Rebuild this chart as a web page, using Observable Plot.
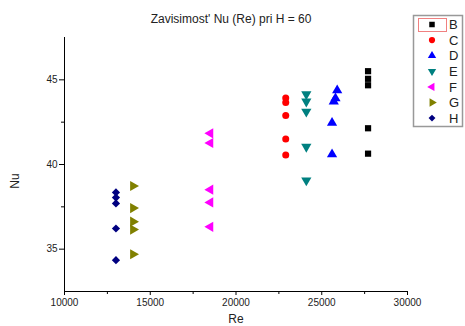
<!DOCTYPE html>
<html>
<head>
<meta charset="utf-8">
<script src="https://cdn.jsdelivr.net/npm/d3@7"></script>
<script src="https://cdn.jsdelivr.net/npm/@observablehq/plot@0.6"></script>
<style>
  html, body { margin: 0; padding: 0; background: #fff; }
  #wrap { position: relative; width: 465px; height: 326px; overflow: hidden; font-family: "Liberation Sans", Arial, sans-serif; }
  .lbl { position: absolute; color: #222; white-space: nowrap; line-height: 1; }
</style>
</head>
<body>
<div id="wrap"></div>
<script>
// ---- data ----
const seriesNames = ["B", "C", "D", "E", "F", "G", "H"];
const reB = [27700, 27700, 27700, 27700, 27700];
const nuB = [45.51, 45.06, 44.68, 42.14, 40.64];
const reC = [22900, 22900, 22900, 22900, 22900];
const nuC = [43.93, 43.66, 42.89, 41.51, 40.56];
const reD = [25900, 25800, 25700, 25600, 25600];
const nuD = [44.38, 43.91, 43.72, 42.46, 40.60];
const reE = [24100, 24100, 24100, 24100, 24100];
const nuE = [44.15, 43.72, 43.12, 41.05, 39.06];
const reF = [18500, 18500, 18500, 18500, 18500];
const nuF = [41.84, 41.27, 38.51, 37.76, 36.32];
const reG = [14000, 14000, 14000, 14000, 14000];
const nuG = [38.73, 37.43, 36.62, 36.16, 34.70];
const reH = [13000, 13000, 13000, 13000, 13000];
const nuH = [38.35, 38.05, 37.70, 36.22, 34.35];
const xMajor = [10000, 15000, 20000, 25000, 30000];
const xMinor = [12500, 17500, 22500, 27500];
const yMajor = [35, 40, 45];
const yMinor = [37.5, 42.5];

const style = {
  B: {color: "#000000", symbol: "square", rotate: 0, r: 3.5},
  C: {color: "#ff0000", symbol: "circle", rotate: 0, r: 3.5},
  D: {color: "#0000ff", symbol: "triangle", rotate: 0, r: 3.8},
  E: {color: "#008080", symbol: "triangle", rotate: 180, r: 3.8},
  F: {color: "#ff00ff", symbol: "triangle", rotate: -90, r: 3.8},
  G: {color: "#808000", symbol: "triangle", rotate: 90, r: 3.8},
  H: {color: "#000080", symbol: "diamond2", rotate: 0, r: 3.7}
};

const raw = {B: [reB, nuB], C: [reC, nuC], D: [reD, nuD], E: [reE, nuE], F: [reF, nuF], G: [reG, nuG], H: [reH, nuH]};
const rows = [];
for (const s of seriesNames) {
  const [xs, ys] = raw[s];
  xs.forEach((x, i) => rows.push({s, re: x, nu: ys[i]}));
}

const marks = [
  Plot.ruleX([10000], {stroke: "#000", strokeWidth: 1}),
  Plot.ruleY([32.5], {stroke: "#000", strokeWidth: 1}),
  Plot.axisX(xMajor, {tickSize: 4, tickPadding: 3, fontSize: 10, label: null, tickFormat: d => String(d), fill: "#222"}),
  Plot.axisX(xMinor, {tickSize: 3, label: null, tickFormat: () => ""}),
  Plot.axisY(yMajor, {tickSize: 5, tickPadding: 2, fontSize: 10, label: null, fill: "#222"}),
  Plot.axisY(yMinor, {tickSize: 3, label: null, tickFormat: () => ""})
];
for (const s of seriesNames) {
  const st = style[s];
  marks.push(Plot.dot(rows.filter(d => d.s === s), {
    x: "re", y: "nu", symbol: () => st.symbol, r: st.r, rotate: st.rotate,
    fill: st.color, stroke: "none"
  }));
}

const chart = Plot.plot({
  width: 465, height: 326,
  marginLeft: 64, marginRight: 58, marginTop: 37, marginBottom: 35,
  x: {domain: [10000, 30000]},
  y: {domain: [32.5, 47.5]},
  symbol: {type: "identity"},
  style: {fontFamily: "'Liberation Sans', Arial, sans-serif", background: "#fff"},
  marks
});
const wrap = document.getElementById("wrap");
chart.style.position = "absolute";
chart.style.left = "0px";
chart.style.top = "0px";
wrap.appendChild(chart);

function addLabel(text, css) {
  const d = document.createElement("div");
  d.className = "lbl";
  d.textContent = text;
  Object.assign(d.style, css);
  wrap.appendChild(d);
  return d;
}
addLabel("Zavisimost' Nu (Re) pri H = 60", {left: "231px", top: "13px", fontSize: "12px", transform: "translateX(-50%)"});
addLabel("Re", {left: "236px", top: "313px", fontSize: "12px", transform: "translateX(-50%)"});
addLabel("Nu", {left: "15px", top: "181px", fontSize: "12px", transform: "translate(-50%,-50%) rotate(-90deg)"});

// legend
const ns = "http://www.w3.org/2000/svg";
const lg = document.createElementNS(ns, "svg");
lg.setAttribute("width", 465); lg.setAttribute("height", 326);
lg.style.position = "absolute"; lg.style.left = "0"; lg.style.top = "0";
const box = document.createElementNS(ns, "rect");
box.setAttribute("x", 413.5); box.setAttribute("y", 15.5);
box.setAttribute("width", 49); box.setAttribute("height", 111);
box.setAttribute("fill", "#fff"); box.setAttribute("stroke", "#999"); box.setAttribute("stroke-width", 1.5);
lg.appendChild(box);
const hl = document.createElementNS(ns, "rect");
hl.setAttribute("x", 418.5); hl.setAttribute("y", 18.5);
hl.setAttribute("width", 28); hl.setAttribute("height", 13);
hl.setAttribute("fill", "none"); hl.setAttribute("stroke", "#f08080"); hl.setAttribute("stroke-width", 1);
lg.appendChild(hl);
const symMap = {square: d3.symbolSquare, circle: d3.symbolCircle, triangle: d3.symbolTriangle, diamond2: d3.symbolDiamond2};
seriesNames.forEach((s, i) => {
  const st = style[s];
  const cy = 24.5 + i * 15.6;
  const p = document.createElementNS(ns, "path");
  p.setAttribute("d", d3.symbol(symMap[st.symbol], Math.PI * 3.1 * 3.1)());
  p.setAttribute("transform", `translate(432,${cy}) rotate(${st.rotate})`);
  p.setAttribute("fill", st.color);
  lg.appendChild(p);
  const t = document.createElementNS(ns, "text");
  t.setAttribute("x", 449); t.setAttribute("y", cy);
  t.setAttribute("dy", "0.36em");
  t.setAttribute("font-size", 13);
  t.setAttribute("font-family", "'Liberation Sans', Arial, sans-serif");
  t.setAttribute("fill", "#222");
  t.textContent = s;
  lg.appendChild(t);
});
wrap.appendChild(lg);
</script>
</body>
</html>
